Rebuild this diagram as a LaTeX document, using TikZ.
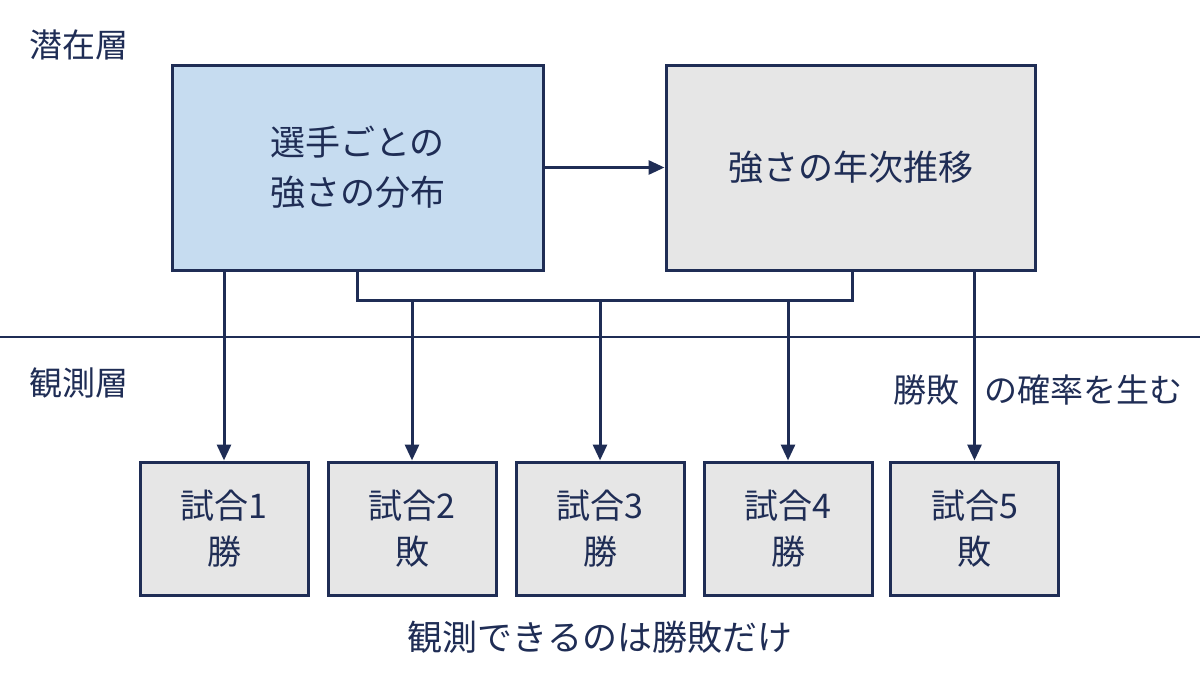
\documentclass[tikz,border=0pt]{standalone}
\usepackage{fontspec}
\setmainfont{Noto Sans CJK JP}
\usetikzlibrary{arrows.meta}
\definecolor{navy}{HTML}{1F2D55}
\definecolor{lblue}{HTML}{C6DCF0}
\definecolor{lgray}{HTML}{E6E6E6}
\begin{document}
\begin{tikzpicture}[x=0.5pt,y=-0.5pt,
  box/.style={draw=navy,line width=1.5pt,fill=lgray,text=navy,align=center,inner sep=0pt},
  conn/.style={draw=navy,line width=1.5pt},
  arr/.style={conn,-{Triangle[length=8pt,width=7pt]}},
  lbl/.style={text=navy,font=\fontsize{16.5}{19}\selectfont}]
\useasboundingbox (0,0) rectangle (1200,675);
\node[lbl,anchor=west] (t1) at (22,45) {潜在層};
\node[lbl,anchor=west] (t2) at (22,383) {観測層};
\node[box,fill=lblue,minimum width=185.5pt,minimum height=102.5pt,font=\fontsize{17.5}{25}\selectfont] (A) at (357.5,167.5) {選手ごとの\\強さの分布};
\node[box,minimum width=184.5pt,minimum height=102.5pt,font=\fontsize{17.5}{25}\selectfont] (B) at (850.5,167.5) {強さの年次推移};
\draw[arr] (A.east) -- (B.west);
\draw[navy,line width=0.6pt] (0,337) -- (1200,337);
\foreach \i/\x/\r in {1/224/勝,2/412/敗,3/600/勝,4/788/勝,5/974.5/敗}{
  \node[box,minimum width=84pt,minimum height=66.5pt,font=\fontsize{17}{23}\selectfont] (m\i) at (\x,528.5) {試合\i\\\r};
}
\coordinate (b1) at (357,300);
\coordinate (b2) at (852,300);
\draw[conn] (A.south -| b1) -- (b1) -- (b2) -- (B.south -| b2);
\draw[arr] (A.south -| m1) -- (m1.north);
\draw[arr] (b1 -| m2) -- (m2.north);
\draw[arr] (b1 -| m3) -- (m3.north);
\draw[arr] (b1 -| m4) -- (m4.north);
\draw[arr] (B.south -| m5) -- (m5.north);
\node[lbl,anchor=east,inner sep=0pt] (g1) at (960,390) {勝敗};
\node[lbl,anchor=west,inner sep=0pt] (g2) at (984,390) {の確率を生む};
\node[lbl,font=\fontsize{17.5}{20}\selectfont] (cap) at (600,637) {観測できるのは勝敗だけ};
\end{tikzpicture}
\end{document}
